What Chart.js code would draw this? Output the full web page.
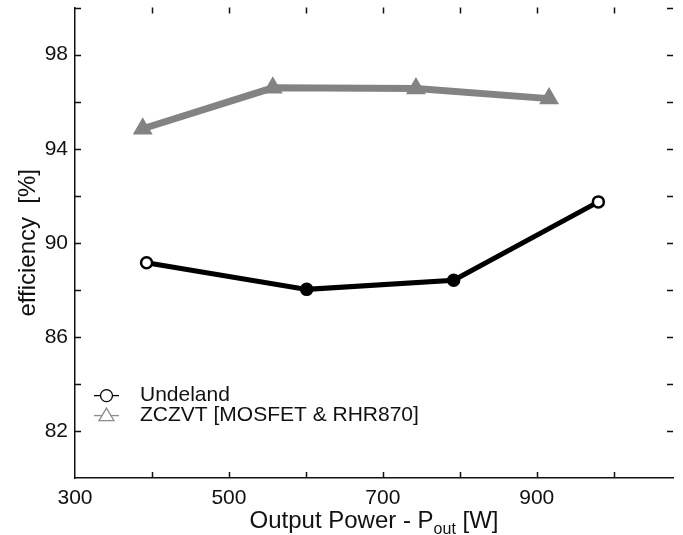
<!DOCTYPE html>
<html>
<head>
<meta charset="utf-8">
<script src="https://cdn.jsdelivr.net/npm/chart.js@4/dist/chart.umd.min.js"></script>
<style>
  body { margin: 0; background: #fff; }
  #wrap { width: 683px; height: 535px; overflow: hidden; }
  #chart { display: block; margin-top: -12px; }
</style>
</head>
<body>
<div id="wrap"><canvas id="chart" width="683" height="547"></canvas></div>
<script>
// Datos
const undelandPower = [393, 601, 792, 980];
const undelandEff = [89.15, 88.02, 88.41, 91.74];
const zczvtPower = [388, 557, 743, 916];
const zczvtEff = [94.85, 96.59, 96.56, 96.13];

const seriesNames = ['Undeland', 'ZCZVT [MOSFET & RHR870]'];
const xTickLabels = [300, 500, 700, 900];
const yTickLabels = [82, 86, 90, 94, 98];
const xTickMarks = [400, 500, 600, 700, 800, 900, 1000];
const yTickMarks = [82, 84, 86, 88, 90, 92, 94, 96, 98, 100];

const FONT = '"Liberation Sans", Arial, sans-serif';

function toPoints(xs, ys) {
    return xs.map((x, i) => ({ x: x, y: ys[i] }));
}

// Marcas hacia dentro en los cuatro lados
const insideTicks = {
    id: 'insideTicks',
    beforeDatasetsDraw(chart) {
        const { ctx, chartArea: a, scales } = chart;
        const len = 6;
        ctx.save();
        ctx.strokeStyle = '#111';
        ctx.lineWidth = 1.5;
        ctx.beginPath();
        xTickMarks.forEach(v => {
            const px = Math.round(scales.x.getPixelForValue(v)) + 0.5;
            ctx.moveTo(px, a.bottom); ctx.lineTo(px, a.bottom - len);
            ctx.moveTo(px, a.top); ctx.lineTo(px, a.top + len);
        });
        yTickMarks.forEach(v => {
            const py = Math.round(scales.y.getPixelForValue(v)) + 0.5;
            ctx.moveTo(a.left, py); ctx.lineTo(a.left + len, py);
            ctx.moveTo(a.right, py); ctx.lineTo(a.right - len, py);
        });
        ctx.stroke();
        ctx.restore();
    }
};

// Títulos de ejes y leyenda
const labels = {
    id: 'labels',
    afterDraw(chart) {
        const { ctx, chartArea: a } = chart;
        ctx.save();
        ctx.fillStyle = '#111';

        // eje x con subíndice
        const big = '24px ' + FONT;
        const small = '16px ' + FONT;
        const p1 = 'Output Power - P';
        const sub = 'out';
        const p2 = ' [W]';
        ctx.font = big;
        const w1 = ctx.measureText(p1).width;
        const w3 = ctx.measureText(p2).width;
        ctx.font = small;
        const w2 = ctx.measureText(sub).width;
        let x = (a.left + a.right) / 2 - (w1 + w2 + w3) / 2;
        const base = a.bottom + 50;
        ctx.textBaseline = 'alphabetic';
        ctx.textAlign = 'left';
        ctx.font = big;
        ctx.fillText(p1, x, base);
        ctx.font = small;
        ctx.fillText(sub, x + w1, base + 6);
        ctx.font = big;
        ctx.fillText(p2, x + w1 + w2, base);

        // eje y
        ctx.save();
        ctx.translate(a.left - 47, (a.top + a.bottom) / 2);
        ctx.rotate(-Math.PI / 2);
        ctx.textAlign = 'center';
        ctx.textBaseline = 'middle';
        ctx.font = big;
        ctx.fillText('efficiency  [%]', 0, 0);
        ctx.restore();

        // leyenda
        const lx = a.left + 19;
        const ly = a.top + 388;
        const styles = [
            { color: '#000', shape: 'circle' },
            { color: '#8c8c8c', shape: 'triangle' }
        ];
        seriesNames.forEach((name, i) => {
            const y = ly + i * 20;
            const s = styles[i];
            ctx.strokeStyle = s.color;
            ctx.lineWidth = 1.3;
            ctx.beginPath();
            ctx.moveTo(lx, y); ctx.lineTo(lx + 25, y);
            ctx.stroke();
            const cx = lx + 12.5;
            ctx.fillStyle = '#fff';
            ctx.beginPath();
            if (s.shape === 'circle') {
                ctx.arc(cx, y, 6, 0, Math.PI * 2);
            } else {
                ctx.moveTo(cx, y - 7.5);
                ctx.lineTo(cx + 7.5, y + 5);
                ctx.lineTo(cx - 7.5, y + 5);
                ctx.closePath();
            }
            ctx.fill();
            ctx.stroke();
            ctx.fillStyle = '#111';
            ctx.font = '21px ' + FONT;
            ctx.textAlign = 'left';
            ctx.textBaseline = 'middle';
            ctx.fillText(name, lx + 46, y);
        });
        ctx.restore();
    }
};

const whiteBg = {
    id: 'whiteBg',
    beforeDraw(chart) {
        const ctx = chart.ctx;
        ctx.save();
        ctx.fillStyle = '#fff';
        ctx.fillRect(0, 0, chart.width, chart.height);
        ctx.restore();
    }
};

new Chart(document.getElementById('chart'), {
    type: 'line',
    data: {
        datasets: [
            {
                label: seriesNames[0],
                data: toPoints(undelandPower, undelandEff),
                borderColor: '#000',
                borderWidth: 5,
                pointStyle: 'circle',
                pointRadius: 5.5,
                pointBorderWidth: 2.5,
                pointBorderColor: '#000',
                pointBackgroundColor: ctx => (ctx.dataIndex === 0 || ctx.dataIndex === undelandPower.length - 1) ? '#fff' : '#000',
                tension: 0,
                clip: false
            },
            {
                label: seriesNames[1],
                data: toPoints(zczvtPower, zczvtEff),
                borderColor: '#838383',
                borderWidth: 7,
                pointStyle: 'triangle',
                pointRadius: 11.5,
                pointBorderWidth: 0,
                pointBackgroundColor: '#838383',
                tension: 0,
                clip: false
            }
        ]
    },
    options: {
        responsive: false,
        animation: false,
        layout: { autoPadding: false, padding: { top: 6, right: 10, left: 0, bottom: 0 } },
        plugins: {
            legend: { display: false },
            tooltip: { enabled: false }
        },
        scales: {
            x: {
                type: 'linear',
                min: 300,
                max: 1077,
                afterFit: s => { s.height = 57; },
                afterBuildTicks: s => { s.ticks = xTickLabels.map(v => ({ value: v })); },
                grid: { display: false, drawTicks: false },
                border: { display: true, color: '#111', width: 1.5 },
                ticks: {
                    padding: 8,
                    maxRotation: 0,
                    color: '#111',
                    font: { family: FONT, size: 21 }
                }
            },
            y: {
                min: 80,
                max: 100,
                afterFit: s => { s.width = 75; },
                afterBuildTicks: s => { s.ticks = yTickLabels.map(v => ({ value: v })); },
                grid: { display: false, drawTicks: false },
                border: { display: true, color: '#111', width: 1.5 },
                ticks: {
                    padding: 7,
                    color: '#111',
                    font: { family: FONT, size: 21 }
                }
            }
        }
    },
    plugins: [whiteBg, insideTicks, labels]
});
</script>
</body>
</html>
